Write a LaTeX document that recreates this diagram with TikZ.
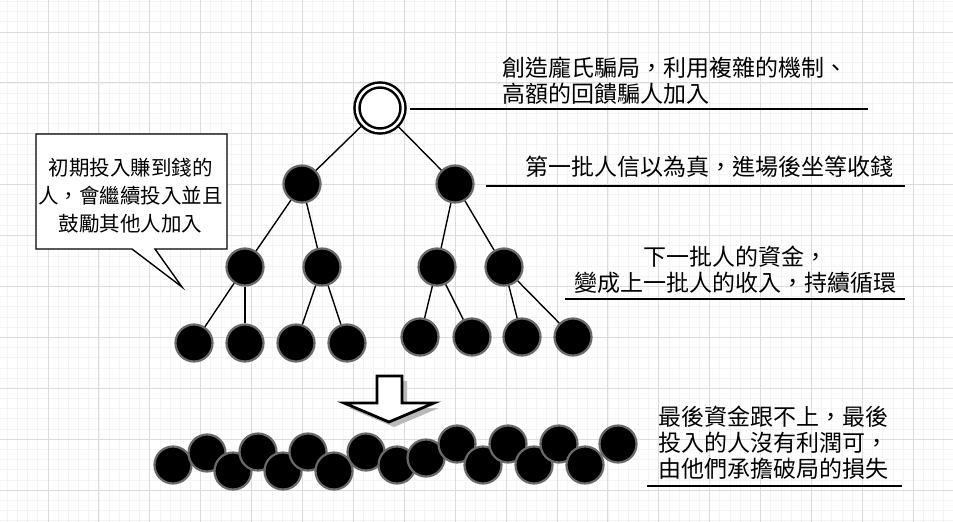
\documentclass[tikz,border=0pt]{standalone}
\usepackage{fontspec}
\usepackage{tikz}
\usetikzlibrary{positioning, shadows}
\newfontfamily\cjk{Noto Sans CJK TC}
\tikzstyle{canvas} = [x = 1pt, y = -1pt]
\definecolor{gridColor}{RGB}{220,220,220}
\definecolor{minorGridColor}{RGB}{244,244,244}
\definecolor{ringColor}{RGB}{105,105,105}
\definecolor{shadowColor}{RGB}{185,185,185}
\tikzstyle{gridLine} = [color=gridColor, line width=1pt]
\tikzstyle{minorGridLine} = [color=minorGridColor, line width=0.8pt]
\tikzstyle{investorStyle} = [circle, fill=black, draw=ringColor, line width=2.2pt, minimum size=37pt, inner sep=0pt]
\tikzstyle{founderStyle} = [circle, fill=white, draw=black, double=white, double distance=2.5pt, line width=2.5pt, minimum size=46pt, inner sep=0pt]
\tikzstyle{edgeLine} = [color=black, line width=1.4pt]
\tikzstyle{noteText} = [font=\cjk\fontsize{23}{26}\selectfont, inner sep=0pt]
\tikzstyle{noteLine} = [color=black, line width=1.3pt]
\tikzstyle{bubbleText} = [font=\cjk\fontsize{20.5}{28}\selectfont, inner sep=0pt, align=center]
\newcommand{\gridLines}[2]{
  \foreach \gx in {-2.9,7.28,...,#1} {\draw [minorGridLine] (\gx,0) -- (\gx,#2);}
  \foreach \gy in {-18.9,-8.72,...,#2} {\draw [minorGridLine] (0,\gy) -- (#1,\gy);}
  \foreach \gx in {-2.9,48,...,#1} {\draw [gridLine] (\gx,0) -- (\gx,#2);}
  \foreach \gy in {-18.9,32,...,#2} {\draw [gridLine] (0,\gy) -- (#1,\gy);}
}
\newcommand{\noteLine}[3]{\draw [noteLine] (#1,#3) -- (#2,#3);}

\begin{document}
\begin{tikzpicture}[canvas]
        \fill [white] (0,0) rectangle (953,522);
        \useasboundingbox (0,0) rectangle (953,522);
        \gridLines{953}{522}

        % pyramid
        \node [founderStyle, drop shadow={shadow xshift=2pt, shadow yshift=-2pt, fill=shadowColor, opacity=.8}] (founder) at (380,108) {};
        \node [investorStyle] (first1) at (302,184) {};
        \node [investorStyle] (first2) at (455,184) {};
        \node [investorStyle] (second1) at (245,267) {};
        \node [investorStyle] (second2) at (322,267) {};
        \node [investorStyle] (second3) at (437,267) {};
        \node [investorStyle] (second4) at (504,267) {};
        \foreach \px [count=\i] in {194,245,296,347} {
          \node [investorStyle] (third\i) at (\px,343) {};
        }
        \foreach \px [count=\i from 5] in {420,472,522,573} {
          \node [investorStyle] (third\i) at (\px,337) {};
        }
        \draw [edgeLine] (founder) -- (first1);
        \draw [edgeLine] (founder) -- (first2);
        \draw [edgeLine] (first1) -- (second1);
        \draw [edgeLine] (first1) -- (second2);
        \draw [edgeLine] (first2) -- (second3);
        \draw [edgeLine] (first2) -- (second4);
        \draw [edgeLine] (second1) -- (third1);
        \draw [edgeLine] (second1) -- (third2);
        \draw [edgeLine] (second2) -- (third3);
        \draw [edgeLine] (second2) -- (third4);
        \draw [edgeLine] (second3) -- (third5);
        \draw [edgeLine] (second3) -- (third6);
        \draw [edgeLine] (second4) -- (third7);
        \draw [edgeLine] (second4) -- (third8);

        % callout
        \draw [color=black, fill=white, line width=1.4pt] (36,134) -- (227,134) -- (227,249) -- (155,249) -- (182,287) -- (132,249) -- (36,249) -- cycle;
        \node [bubbleText] (earlyNote) at (130.5,196) {初期投入賺到錢的\\人，會繼續投入並且\\鼓勵其他人加入};

        % collapse arrow
        \fill [shadowColor] (382,381) -- (407,381) -- (407,408) -- (439,408) -- (394,427) -- (349,408) -- (382,408) -- cycle;
        \draw [color=black, fill=white, line width=2.8pt, line join=miter] (377,376) -- (402,376) -- (402,403) -- (434,403) -- (389,422) -- (344,403) -- (377,403) -- cycle;

        % last investors
        \foreach \px/\py [count=\i] in {173/465, 207/453, 233/471, 258/452, 283/471, 308/452, 334/471, 366/452, 397/465, 426/458, 457/444, 483/465, 508/444, 534/465, 559/444, 585/465, 618/444} {
          \node [investorStyle] (last\i) at (\px,\py) {};
        }

        % notes
        \node [noteText, anchor=west, align=left] (schemeNote) at (502,81) {創造龐氏騙局，利用複雜的機制、\\高額的回饋騙人加入};
        \noteLine{410}{868}{109}
        \node [noteText, anchor=west] (firstNote) at (525,167) {第一批人信以為真，進場後坐等收錢};
        \noteLine{486}{905}{186}
        \node [noteText, align=center] (cycleNote) at (735,270) {下一批人的資金，\\變成上一批人的收入，持續循環};
        \noteLine{565}{905}{299}
        \node [noteText, anchor=west, align=left] (lossNote) at (658,443) {最後資金跟不上，最後\\投入的人沒有利潤可，\\由他們承擔破局的損失};
        \noteLine{647}{902}{486}
      \end{tikzpicture}
\end{document}
